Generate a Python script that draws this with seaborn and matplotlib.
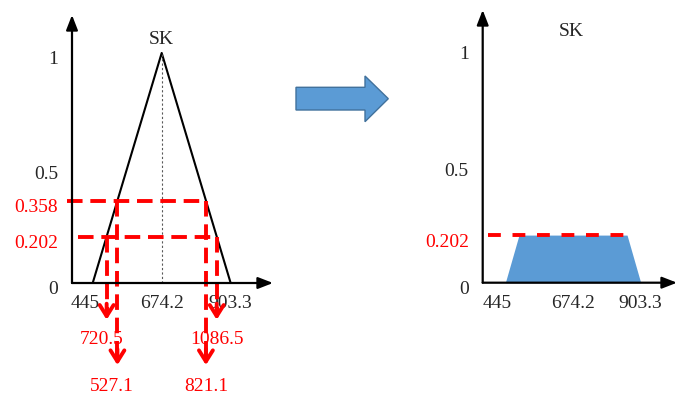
import matplotlib
matplotlib.use("Agg")
import matplotlib.pyplot as plt
import matplotlib.transforms as mtransforms
from matplotlib.patches import Polygon
import seaborn as sns
import pandas as pd

sns.set_style("white")
plt.rcParams["font.family"] = ["Liberation Serif", "DejaVu Serif"]

# ---- data ----
x_points = [445, 674.2, 903.3]
mu_points = [0, 1, 0]
x_ticks = [445, 674.2, 903.3]
x_tick_labels = ["445", "674.2", "903.3"]
y_ticks_left = [0, 0.202, 0.358, 0.5, 1]
y_labels_left = ["0", "0.202", "0.358", "0.5", "1"]
y_ticks_right = [0, 0.202, 0.5, 1]
y_labels_right = ["0", "0.202", "0.5", "1"]
alpha_levels = [0.358, 0.202]
cut_left = [527.1, 491.3]
cut_right = [821.1, 857.0]
result_left = ["527.1", "720.5"]
result_right = ["821.1", "1086.5"]
trap_x = [445, 491.3, 857.0, 903.3]
trap_mu = [0, 0.202, 0.202, 0]
fuzzy_label = "SK"

RED = "#ff0000"
BLUE = "#5b9bd5"
FS = 14

W, H = 678, 396
fig = plt.figure(figsize=(W / 100, H / 100), dpi=100)


def box(l, r, b, t):
    return [l / W, 1 - b / H, (r - l) / W, (b - t) / H]


axL = fig.add_axes(box(72, 273, 283, 15))
axR = fig.add_axes(box(482.7, 677, 282.7, 10))
axL.set_xlim(376.2, 1044)
axL.set_ylim(0, 1.165)
axR.set_xlim(368.5, 1026.0)
axR.set_ylim(0, 1.157)


def style_axes(ax, yt, yl):
    for s in ax.spines.values():
        s.set_visible(False)
    ax.set_facecolor("none")
    ax.set_xticks(x_ticks)
    ax.set_xticklabels(x_tick_labels)
    ax.set_yticks(yt)
    ax.set_yticklabels(yl)
    ax.tick_params(axis="both", length=0, labelsize=FS)
    ax.tick_params(axis="x", pad=9)
    ax.tick_params(axis="y", pad=10)
    down = mtransforms.ScaledTranslation(0, -5 / 100, fig.dpi_scale_trans)
    for lab, txt in zip(ax.get_yticklabels(), yl):
        lab.set_transform(lab.get_transform() + down)
        if txt in ("0.202", "0.358"):
            lab.set_color(RED)
    first = ax.get_xticklabels()[0]
    first.set_transform(first.get_transform() +
                        mtransforms.ScaledTranslation(-8 / 100, 0, fig.dpi_scale_trans))
    arrow = dict(arrowstyle="-|>,head_length=0.9,head_width=0.35", lw=1.6,
                 color="black", shrinkA=0, shrinkB=0)
    ax.annotate("", xy=(1, 0), xytext=(0, 0), xycoords="axes fraction",
                arrowprops=arrow, annotation_clip=False)
    ax.annotate("", xy=(0, 1), xytext=(0, 0), xycoords="axes fraction",
                arrowprops=arrow, annotation_clip=False)


style_axes(axL, y_ticks_left, y_labels_left)
style_axes(axR, y_ticks_right, y_labels_right)

# ---- left panel ----
tri = pd.DataFrame({"x": x_points, "mu": mu_points})
sns.lineplot(data=tri, x="x", y="mu", ax=axL, color="black", lw=1.5,
             sort=False, estimator=None)
axL.set_xlabel("")
axL.set_ylabel("")
axL.plot([x_points[1], x_points[1]], [0, 1], color="0.35", lw=0.8,
         ls=(0, (2, 2)))
axL.text(x_points[1], 1.06, fuzzy_label, ha="center", va="center", fontsize=FS)

h_start = [359, 396]
tips = [-0.357, -0.16]
label_y = [-0.45, -0.245]
dash = (0, (4, 2))
for lvl, xl, xr, xs, tip, ly, tl, tr in zip(alpha_levels, cut_left, cut_right,
                                            h_start, tips, label_y,
                                            result_left, result_right):
    axL.plot([xs, xr], [lvl, lvl], color=RED, lw=2.8, ls=dash, clip_on=False)
    for xv in (xl, xr):
        axL.plot([xv, xv], [lvl, tip + 0.03], color=RED, lw=2.8, ls=dash,
                 clip_on=False)
        axL.annotate("", xy=(xv, tip), xytext=(xv, tip + 0.07),
                     arrowprops=dict(arrowstyle="->,head_length=0.8,head_width=0.5",
                                     lw=2.8, color=RED, shrinkA=0, shrinkB=0),
                     annotation_clip=False)
    axL.text(xl - 18, ly, tl, color=RED, ha="center", va="center", fontsize=FS,
             clip_on=False)
    axL.text(xr, ly, tr, color=RED, ha="center", va="center", fontsize=FS,
             clip_on=False)

# ---- right panel ----
axR.fill_between(trap_x, trap_mu, 0, color=BLUE, lw=0)
axR.plot([386, 860], [trap_mu[1], trap_mu[1]], color=RED, lw=2.8,
         ls=(0, (3.3, 3)), clip_on=False)
axR.text(667, 1.064, fuzzy_label, ha="center", va="center", fontsize=FS)

# ---- block arrow between panels ----
pts_px = [(296, 87.3), (365, 87.3), (365, 76), (388.3, 98.7), (365, 121.7),
          (365, 110), (296, 110)]
pts = [(x / W, 1 - y / H) for x, y in pts_px]
fig.patches.append(Polygon(pts, closed=True, transform=fig.transFigure,
                           facecolor=BLUE, edgecolor="#41719c", lw=1))

fig.savefig("out.png", dpi=100)
